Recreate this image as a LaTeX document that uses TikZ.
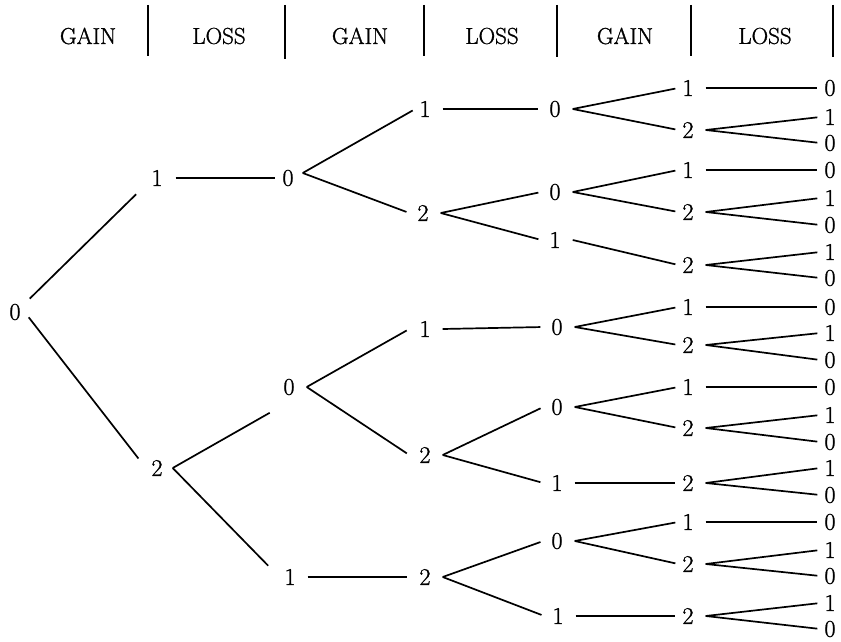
\documentclass[tikz,border=0pt]{standalone}
\usepackage{fontspec}
\newfontfamily\treefont{Latin Modern Roman}[FakeBold=1.2]
\begin{document}
\begin{tikzpicture}[x=1pt,y=-1pt,
  dig/.style={inner xsep=4pt, inner ysep=3pt, font=\treefont\fontsize{24}{26}\selectfont},
  head/.style={inner sep=0pt, font=\treefont\fontsize{23}{25}\selectfont},
  ln/.style={line width=1.7pt, shorten >=3pt},
  bar/.style={line width=1.8pt}]
\useasboundingbox (0,0) rectangle (841,642);
% header
\node[head] (h1) at (88,36) {GAIN};
\node[head] (h2) at (219,36) {LOSS};
\node[head] (h3) at (360,36) {GAIN};
\node[head] (h4) at (492,36) {LOSS};
\node[head] (h5) at (625,36) {GAIN};
\node[head] (h6) at (765,36) {LOSS};
\foreach \x/\b in {148/56, 285/59, 424/56, 557/57, 691/56, 833/57}
  \draw[bar] (\x,5) -- (\x,\b);
% level 0-2
\node[dig] (r) at (15,312) {0};
\node[dig] (a) at (157,178) {1};
\node[dig] (b) at (157,468) {2};
\node[dig] (a0) at (288,178) {0};
\node[dig] (b0) at (289,387) {0};
\node[dig] (b1) at (290,577) {1};
% level 3
\node[dig] (a01) at (425,109) {1};
\node[dig] (a02) at (423,213) {2};
\node[dig] (b01) at (425,329) {1};
\node[dig] (b02) at (425,455) {2};
\node[dig] (b12) at (425,577) {2};
% level 4
\node[dig] (a010) at (555,109) {0};
\node[dig] (a020) at (555,192) {0};
\node[dig] (a021) at (555,240) {1};
\node[dig] (b010) at (557,327) {0};
\node[dig] (b020) at (557,407) {0};
\node[dig] (b021) at (557,483) {1};
\node[dig] (b120) at (557,541) {0};
\node[dig] (b121) at (558,616) {1};
% level 5
\node[dig] (a0101) at (688,88) {1};
\node[dig] (a0102) at (688,130) {2};
\node[dig] (a0201) at (688,170) {1};
\node[dig] (a0202) at (688,212) {2};
\node[dig] (a0212) at (688,265) {2};
\node[dig] (b0101) at (688,307) {1};
\node[dig] (b0102) at (688,345) {2};
\node[dig] (b0201) at (688,387) {1};
\node[dig] (b0202) at (688,428) {2};
\node[dig] (b0212) at (688,483) {2};
\node[dig] (b1201) at (688,522) {1};
\node[dig] (b1202) at (688,564) {2};
\node[dig] (b1212) at (688,616) {2};
% level 6
\node[dig] (c01) at (830,88) {0};
\node[dig] (c02) at (830,117) {1};
\node[dig] (c03) at (830,143) {0};
\node[dig] (c04) at (830,170) {0};
\node[dig] (c05) at (830,198) {1};
\node[dig] (c06) at (830,225) {0};
\node[dig] (c07) at (830,252) {1};
\node[dig] (c08) at (830,278) {0};
\node[dig] (c09) at (830,307) {0};
\node[dig] (c10) at (830,333) {1};
\node[dig] (c11) at (830,360) {0};
\node[dig] (c12) at (830,387) {0};
\node[dig] (c13) at (830,415) {1};
\node[dig] (c14) at (830,442) {0};
\node[dig] (c15) at (830,468) {1};
\node[dig] (c16) at (830,495) {0};
\node[dig] (c17) at (830,522) {0};
\node[dig] (c18) at (830,550) {1};
\node[dig] (c19) at (830,576) {0};
\node[dig] (c20) at (830,603) {1};
\node[dig] (c21) at (830,629) {0};
% edges level 0-2
\draw[ln] ([shift={(5,-2)}]r.north east) -- ([shift={(-9,3)}]a.south west);
\draw[ln] ([shift={(4,-6)}]r.south east) -- ([shift={(-7,4)}]b.north west);
\draw[ln] ([xshift=9pt]a.east) -- (a0.west);
\draw[ln] ([xshift=6pt]b.east) -- ([shift={(-7,13)}]b0.south west);
\draw[ln] ([xshift=6pt]b.east) -- ([shift={(-10,2)}]b1.north west);
% level 2-3
\draw[ln] ([shift={(5pt,-5)}]a0.east) -- (a01.west);
\draw[ln] ([shift={(5pt,-5)}]a0.east) -- ([xshift=-4pt]a02.west);
\draw[ln] ([xshift=8pt]b0.east) -- ([xshift=-6pt]b01.west);
\draw[ln] ([xshift=8pt]b0.east) -- ([xshift=-6pt]b02.west);
\draw[ln] ([xshift=8pt]b1.east) -- ([xshift=-5pt]b12.west);
% level 3-4
\draw[ln] ([xshift=8pt]a01.east) -- ([xshift=-4pt]a010.west);
\draw[ln] ([xshift=8pt]a02.east) -- ([xshift=-4pt]a020.west);
\draw[ln] ([xshift=8pt]a02.east) -- ([xshift=-4pt]a021.west);
\draw[ln] ([xshift=8pt]b01.east) -- ([xshift=-4pt]b010.west);
\draw[ln] ([xshift=8pt]b02.east) -- ([xshift=-4pt]b020.west);
\draw[ln] ([xshift=8pt]b02.east) -- ([xshift=-4pt]b021.west);
\draw[ln] ([xshift=8pt]b12.east) -- ([xshift=-4pt]b120.west);
\draw[ln] ([xshift=8pt]b12.east) -- ([xshift=-4pt]b121.west);
% level 4-5
\draw[ln] ([xshift=8pt]a010.east) -- (a0101.west);
\draw[ln] ([xshift=8pt]a010.east) -- (a0102.west);
\draw[ln] ([xshift=8pt]a020.east) -- (a0201.west);
\draw[ln] ([xshift=8pt]a020.east) -- (a0202.west);
\draw[ln] ([xshift=8pt]a021.east) -- (a0212.west);
\draw[ln] ([xshift=8pt]b010.east) -- (b0101.west);
\draw[ln] ([xshift=8pt]b010.east) -- (b0102.west);
\draw[ln] ([xshift=8pt]b020.east) -- (b0201.west);
\draw[ln] ([xshift=8pt]b020.east) -- (b0202.west);
\draw[ln] ([xshift=8pt]b021.east) -- (b0212.west);
\draw[ln] ([xshift=8pt]b120.east) -- (b1201.west);
\draw[ln] ([xshift=8pt]b120.east) -- (b1202.west);
\draw[ln] ([xshift=8pt]b121.east) -- (b1212.west);
% level 5-6
\draw[ln] ([xshift=8pt]a0101.east) -- (c01.west);
\draw[ln] ([xshift=8pt]a0102.east) -- (c02.west);
\draw[ln] ([xshift=8pt]a0102.east) -- (c03.west);
\draw[ln] ([xshift=8pt]a0201.east) -- (c04.west);
\draw[ln] ([xshift=8pt]a0202.east) -- (c05.west);
\draw[ln] ([xshift=8pt]a0202.east) -- (c06.west);
\draw[ln] ([xshift=8pt]a0212.east) -- (c07.west);
\draw[ln] ([xshift=8pt]a0212.east) -- (c08.west);
\draw[ln] ([xshift=8pt]b0101.east) -- (c09.west);
\draw[ln] ([xshift=8pt]b0102.east) -- (c10.west);
\draw[ln] ([xshift=8pt]b0102.east) -- (c11.west);
\draw[ln] ([xshift=8pt]b0201.east) -- (c12.west);
\draw[ln] ([xshift=8pt]b0202.east) -- (c13.west);
\draw[ln] ([xshift=8pt]b0202.east) -- (c14.west);
\draw[ln] ([xshift=8pt]b0212.east) -- (c15.west);
\draw[ln] ([xshift=8pt]b0212.east) -- (c16.west);
\draw[ln] ([xshift=8pt]b1201.east) -- (c17.west);
\draw[ln] ([xshift=8pt]b1202.east) -- (c18.west);
\draw[ln] ([xshift=8pt]b1202.east) -- (c19.west);
\draw[ln] ([xshift=8pt]b1212.east) -- (c20.west);
\draw[ln] ([xshift=8pt]b1212.east) -- (c21.west);
\end{tikzpicture}
\end{document}
